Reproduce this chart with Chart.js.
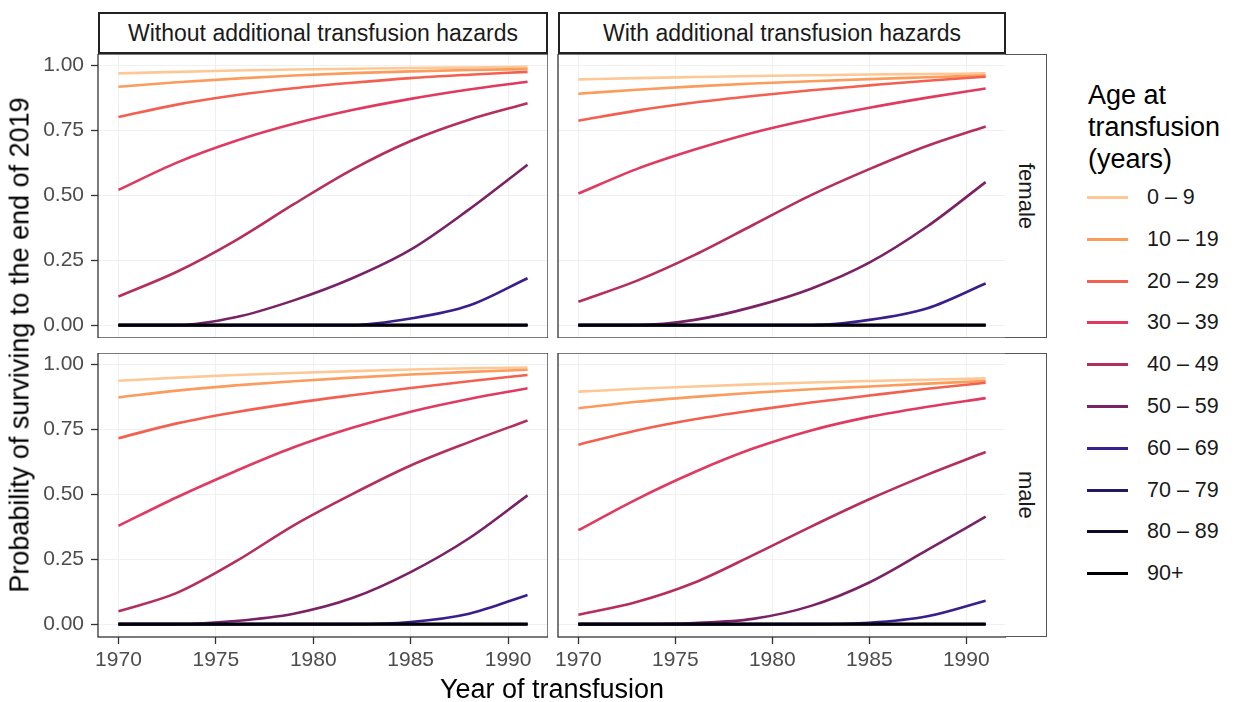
<!DOCTYPE html>
<html>
<head>
<meta charset="utf-8">
<script src="https://cdn.jsdelivr.net/npm/chart.js@4.4.1/dist/chart.umd.min.js"></script>
<style>
  body { margin: 0; background: #fff; font-family: "Liberation Sans", Arial, sans-serif; }
  #fig { position: relative; width: 1234px; height: 702px; overflow: hidden; }
  #fig canvas { position: absolute; }
  .strip-top {
    position: absolute; box-sizing: border-box; height: 42px; top: 12px;
    border: 2px solid #222; background: #fff; color: #1a1a1a; font-size: 23px;
    display: flex; align-items: center; justify-content: center;
  }
  .strip-side {
    position: absolute; box-sizing: border-box; width: 42px; left: 1005px; height: 284px;
    border: 1px solid #555; border-left: none; background: #fff; color: #1a1a1a; font-size: 22px;
    display: flex; align-items: center; justify-content: center; writing-mode: vertical-rl;
  }
  .title { position: absolute; color: #000; font-size: 27px; white-space: nowrap; }
  #ytitle { left: 20px; top: 345px; transform: translate(-50%, -50%) rotate(-90deg); }
  #xtitle { left: 552px; top: 689px; transform: translate(-50%, -50%); }
  #legend-title { left: 1088px; top: 79px; line-height: 32px; }
  .key { position: absolute; left: 1087px; width: 41px; height: 3px; }
  .key-label { position: absolute; left: 1147px; font-size: 21.5px; color: #1a1a1a; transform: translateY(-50%); white-space: nowrap; }
</style>
</head>
<body>
<div id="fig">
  <canvas id="p-fw" width="548" height="284" style="left:0;top:54px"></canvas>
  <canvas id="p-fh" width="478" height="284" style="left:528px;top:54px"></canvas>
  <canvas id="p-mw" width="548" height="324" style="left:0;top:353px"></canvas>
  <canvas id="p-mh" width="478" height="324" style="left:528px;top:353px"></canvas>
  <div id="strips"></div>
  <div class="title" id="ytitle">Probability of surviving to the end of 2019</div>
  <div class="title" id="xtitle">Year of transfusion</div>
  <div class="title" id="legend-title">Age at<br>transfusion<br>(years)</div>
  <div id="legend"></div>
</div>
<script>
const years = [1970, 1973, 1976, 1979, 1982, 1985, 1988, 1991];
const xTicks = [1970, 1975, 1980, 1985, 1990];
const yTicks = [0, 0.25, 0.5, 0.75, 1];

const ageGroups = ['0 – 9', '10 – 19', '20 – 29', '30 – 39', '40 – 49',
                   '50 – 59', '60 – 69', '70 – 79', '80 – 89', '90+'];
const groupColours = ['#fdc896', '#fb9b5c', '#f3604f', '#e03a60', '#b52e5c',
                      '#792265', '#3a1e8c', '#221a5c', '#0d0a26', '#000004'];

const hazardLabels = ['Without additional transfusion hazards', 'With additional transfusion hazards'];
const sexLabels = ['female', 'male'];

const zeros = [0, 0, 0, 0, 0, 0, 0, 0];

// survival probability by age group, one row per group
const femaleWithout = [
  [0.968, 0.974, 0.979, 0.983, 0.986, 0.989, 0.991, 0.993],
  [0.917, 0.934, 0.948, 0.960, 0.969, 0.976, 0.981, 0.985],
  [0.800, 0.848, 0.884, 0.911, 0.932, 0.950, 0.963, 0.974],
  [0.520, 0.625, 0.708, 0.774, 0.827, 0.870, 0.906, 0.936],
  [0.110, 0.205, 0.325, 0.465, 0.598, 0.708, 0.790, 0.853],
  [0, 0, 0.030, 0.095, 0.180, 0.290, 0.445, 0.617],
  [0, 0, 0, 0, 0, 0.025, 0.075, 0.180],
  zeros, zeros, zeros,
];
const femaleWith = [
  [0.945, 0.950, 0.954, 0.958, 0.961, 0.964, 0.966, 0.968],
  [0.890, 0.905, 0.918, 0.929, 0.938, 0.946, 0.953, 0.960],
  [0.786, 0.825, 0.856, 0.881, 0.903, 0.922, 0.940, 0.955],
  [0.506, 0.600, 0.675, 0.740, 0.792, 0.836, 0.875, 0.910],
  [0.090, 0.170, 0.270, 0.385, 0.500, 0.600, 0.690, 0.764],
  [0, 0, 0.020, 0.070, 0.140, 0.240, 0.380, 0.550],
  [0, 0, 0, 0, 0, 0.020, 0.065, 0.160],
  zeros, zeros, zeros,
];
const maleWithout = [
  [0.936, 0.948, 0.958, 0.966, 0.973, 0.979, 0.984, 0.987],
  [0.872, 0.898, 0.918, 0.934, 0.948, 0.960, 0.970, 0.978],
  [0.715, 0.772, 0.815, 0.850, 0.880, 0.908, 0.934, 0.958],
  [0.378, 0.488, 0.588, 0.680, 0.755, 0.817, 0.866, 0.907],
  [0.049, 0.120, 0.240, 0.380, 0.500, 0.610, 0.700, 0.783],
  [0, 0, 0.012, 0.040, 0.100, 0.200, 0.330, 0.495],
  [0, 0, 0, 0, 0, 0.008, 0.040, 0.112],
  zeros, zeros, zeros,
];
const maleWith = [
  [0.894, 0.905, 0.914, 0.922, 0.929, 0.935, 0.940, 0.945],
  [0.830, 0.855, 0.874, 0.890, 0.903, 0.914, 0.925, 0.935],
  [0.690, 0.745, 0.788, 0.822, 0.852, 0.879, 0.905, 0.928],
  [0.361, 0.480, 0.585, 0.675, 0.745, 0.797, 0.836, 0.869],
  [0.036, 0.085, 0.160, 0.265, 0.375, 0.480, 0.575, 0.662],
  [0, 0, 0.004, 0.020, 0.070, 0.160, 0.285, 0.413],
  [0, 0, 0, 0, 0, 0.005, 0.030, 0.090],
  zeros, zeros, zeros,
];

// ggplot-style 5% expansion around the data range
const X_RANGE = [1968.95, 1992.05];
const Y_RANGE = [-0.0497, 1.0427];

const TICK_FONT = { family: '"Liberation Sans", Arial, sans-serif', size: 21 };
const TICK_COLOUR = '#4d4d4d';

const panelBorder = {
  id: 'panelBorder',
  afterDraw(chart) {
    const { ctx, chartArea: a } = chart;
    ctx.save();
    ctx.strokeStyle = '#333';
    ctx.lineWidth = 1.3;
    ctx.strokeRect(a.left, a.top, a.width, a.height);
    ctx.restore();
  },
};

function drawPanel(id, rows, { yAxis, xAxis, padLeft }) {
  const datasets = rows.map((vals, i) => ({
    label: ageGroups[i],
    data: years.map((yr, j) => ({ x: yr, y: vals[j] })),
    borderColor: groupColours[i],
    borderWidth: 2.6,
    pointRadius: 0,
    fill: false,
    cubicInterpolationMode: 'monotone',
    order: ageGroups.length - i, // older groups drawn on top
  }));

  new Chart(document.getElementById(id), {
    type: 'line',
    data: { datasets },
    plugins: [panelBorder],
    options: {
      responsive: false,
      animation: false,
      events: [],
      layout: { autoPadding: false, padding: { left: padLeft, right: 0, top: 0, bottom: 0 } },
      plugins: { legend: { display: false }, tooltip: { enabled: false } },
      scales: {
        x: {
          type: 'linear',
          min: X_RANGE[0],
          max: X_RANGE[1],
          border: { display: false },
          grid: { color: '#f0f0f0', lineWidth: 1, drawTicks: xAxis, tickLength: 7, tickColor: '#333', tickWidth: 1.3 },
          ticks: { display: xAxis, autoSkip: false, maxRotation: 0, padding: 4, color: TICK_COLOUR, font: TICK_FONT,
                   callback: (v) => String(v) },
          afterBuildTicks: (s) => { s.ticks = xTicks.map((v) => ({ value: v })); },
          afterFit: (s) => { s.height = xAxis ? 40 : 0; s.paddingLeft = 0; s.paddingRight = 0; },
        },
        y: {
          type: 'linear',
          min: Y_RANGE[0],
          max: Y_RANGE[1],
          border: { display: false },
          grid: { color: '#f0f0f0', lineWidth: 1, drawTicks: yAxis, tickLength: 7, tickColor: '#333', tickWidth: 1.3 },
          ticks: { display: yAxis, padding: 7, color: TICK_COLOUR, font: TICK_FONT,
                   callback: (v) => v.toFixed(2) },
          afterBuildTicks: (s) => { s.ticks = yTicks.map((v) => ({ value: v })); },
          afterFit: (s) => { s.width = yAxis ? 98 : 0; s.paddingTop = 0; s.paddingBottom = 0; },
        },
      },
    },
  });
}

drawPanel('p-fw', femaleWithout, { yAxis: true, xAxis: false, padLeft: 0 });
drawPanel('p-fh', femaleWith, { yAxis: false, xAxis: false, padLeft: 30 });
drawPanel('p-mw', maleWithout, { yAxis: true, xAxis: true, padLeft: 0 });
drawPanel('p-mh', maleWith, { yAxis: false, xAxis: true, padLeft: 30 });

// facet strips
const strips = document.getElementById('strips');
[[98, 450], [558, 448]].forEach(([left, width], i) => {
  const d = document.createElement('div');
  d.className = 'strip-top';
  d.style.left = left + 'px';
  d.style.width = width + 'px';
  d.textContent = hazardLabels[i];
  strips.appendChild(d);
});
[54, 353].forEach((top, i) => {
  const d = document.createElement('div');
  d.className = 'strip-side';
  d.style.top = top + 'px';
  d.textContent = sexLabels[i];
  strips.appendChild(d);
});

// legend
const legend = document.getElementById('legend');
ageGroups.forEach((g, i) => {
  const cy = Math.round(197 + i * 41.8);
  const key = document.createElement('div');
  key.className = 'key';
  key.style.top = (cy - 1) + 'px';
  key.style.background = groupColours[i];
  legend.appendChild(key);
  const lab = document.createElement('div');
  lab.className = 'key-label';
  lab.style.top = cy + 'px';
  lab.textContent = g;
  legend.appendChild(lab);
});
</script>
</body>
</html>
